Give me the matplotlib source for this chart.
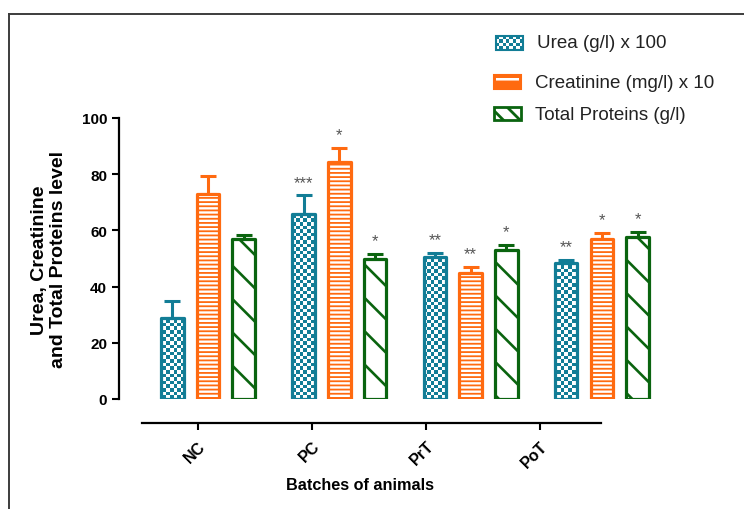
import numpy as np
import matplotlib
matplotlib.use("Agg")
import matplotlib.pyplot as plt
from matplotlib.colors import ListedColormap
from matplotlib.patches import Rectangle
from matplotlib.lines import Line2D

plt.rcParams['font.family'] = ['Liberation Sans', 'DejaVu Sans']

# ---- data ----
batches = ["NC", "PC", "PrT", "PoT"]
series_names = ["Urea (g/l) x 100", "Creatinine (mg/l) x 10", "Total Proteins (g/l)"]
urea = [29.0, 66.0, 50.5, 48.5]
urea_err = [6.0, 6.5, 1.5, 1.1]
creatinine = [73.0, 84.3, 45.0, 57.0]
creatinine_err = [6.3, 5.0, 2.0, 2.2]
proteins = [57.0, 50.0, 53.0, 57.5]
proteins_err = [1.2, 1.6, 1.8, 2.0]
urea_sig = ["", "***", "**", "**"]
creatinine_sig = ["", "*", "**", "*"]
proteins_sig = ["", "*", "*", "*"]
y_ticks = [0, 20, 40, 60, 80, 100]

TEAL = "#127d96"
ORANGE = "#ff6a10"
GREEN = "#0a640f"
SIG_COLOR = "#555555"

W, H = 744, 510
fig = plt.figure(figsize=(W / 100, H / 100), dpi=100)


def fx(px):
    return px / W


def fy(py):
    return 1 - py / H


# outer frame (top and left edges)
fig.add_artist(Line2D([fx(9), 1.0], [fy(15), fy(15)], color="#3c3c3c", lw=1.4,
                      transform=fig.transFigure))
fig.add_artist(Line2D([fx(9), fx(9)], [fy(15), 0.0], color="#3c3c3c", lw=1.4,
                      transform=fig.transFigure))

# ---- bar axes ----
ax_l, ax_r, ax_b, ax_t = 119, 680, 400, 119
ax = fig.add_axes([fx(ax_l), fy(ax_b), (ax_r - ax_l) / W, (ax_b - ax_t) / H])
ax.patch.set_visible(False)
unit = 131.3
xlo = -(208 - ax_l) / unit
xhi = xlo + (ax_r - ax_l) / unit
ax.set_xlim(xlo, xhi)
ax.set_ylim(0, 100)
for s in ("top", "right", "bottom"):
    ax.spines[s].set_visible(False)
ax.spines["left"].set_linewidth(1.6)
ax.spines["left"].set_bounds(0, 100)
ax.set_xticks([])
ax.set_yticks(y_ticks)
ax.tick_params(axis="y", direction="out", length=5, width=1.5, pad=3.5,
               labelsize=11)
for lab in ax.get_yticklabels():
    lab.set_fontweight("bold")

x = np.arange(len(batches))
bw = 0.171
off = 0.272
edge_lw = 2.3


def hatch_lw(bars, lw):
    for b in bars:
        if hasattr(b, "set_hatch_linewidth"):
            b.set_hatch_linewidth(lw)


# checkerboard texture for the urea bars
ncols = int((ax_r - ax_l) / 3.6)
nrows = int((ax_b - ax_t) / 3.6)
checker = (np.indices((nrows, ncols)).sum(axis=0) % 2).astype(float)
checker_cmap = ListedColormap(["white", TEAL])

urea_bars = ax.bar(x - off, urea, width=bw, facecolor="none", edgecolor=TEAL,
                   linewidth=edge_lw, zorder=3, joinstyle="round")
for b in urea_bars:
    im = ax.imshow(checker, cmap=checker_cmap, extent=(0, 1, 0, 1),
                   transform=ax.transAxes, interpolation="nearest",
                   aspect="auto", zorder=2)
    im.set_clip_path(b)

plt.rcParams["hatch.linewidth"] = 1.3
creat_bars = ax.bar(x, creatinine, width=bw, facecolor="white", edgecolor=ORANGE,
                    hatch="----", linewidth=edge_lw, zorder=3, joinstyle="round")
hatch_lw(creat_bars, 1.3)

plt.rcParams["hatch.linewidth"] = 1.9
prot_bars = ax.bar(x + off, proteins, width=bw, facecolor="white", edgecolor=GREEN,
                   hatch="\\", linewidth=edge_lw, zorder=3, joinstyle="round")
hatch_lw(prot_bars, 1.9)

ax.set_xlim(xlo, xhi)
ax.set_ylim(0, 100)

for xs, vals, errs, col, sigs in [
    (x - off, urea, urea_err, TEAL, urea_sig),
    (x, creatinine, creatinine_err, ORANGE, creatinine_sig),
    (x + off, proteins, proteins_err, GREEN, proteins_sig),
]:
    ax.errorbar(xs, vals, yerr=[np.zeros(len(vals)), errs], fmt="none",
                ecolor=col, elinewidth=2.2, capsize=5.5, capthick=2.2, zorder=2.5)
    for xi, v, e, s in zip(xs, vals, errs, sigs):
        if s:
            ax.annotate(s, (xi, v + e), xytext=(0, 4), textcoords="offset points",
                        ha="center", va="bottom", fontsize=12, color=SIG_COLOR,
                        annotation_clip=False)

# ---- category axis ----
cax_l, cax_r, cax_y = 142, 601, 423.5
cax = fig.add_axes([fx(cax_l), fy(cax_y), (cax_r - cax_l) / W, 0.0001])
cax.patch.set_visible(False)
for s in ("top", "right", "left"):
    cax.spines[s].set_visible(False)
cax.spines["bottom"].set_linewidth(1.6)
cstep = 114
cax.set_xlim(-(198 - cax_l) / cstep, (cax_r - 198) / cstep)
cax.set_yticks([])
cax.set_xticks(x)
cax.set_xticklabels(batches, rotation=45, ha="right", va="top",
                    rotation_mode="anchor", fontsize=11.5, fontweight="bold")
cax.tick_params(axis="x", direction="out", length=5, width=1.5, pad=6)

# axis titles
fig.text(fx(49), fy(260), "Urea, Creatinine\nand Total Proteins level", rotation=90,
         ha="center", va="center", multialignment="center", fontsize=14,
         fontweight="bold", linespacing=1.1)
fig.text(fx(360), fy(486), "Batches of animals", ha="center", va="center",
         fontsize=11.7, fontweight="bold")

# ---- legend ----
lax = fig.add_axes([0, 0, 1, 1])
lax.set_xlim(0, W)
lax.set_ylim(H, 0)
lax.axis("off")

sw_u = Rectangle((496, 37), 27, 14, facecolor="none", edgecolor=TEAL, lw=1.5,
                 zorder=3)
lax.add_patch(sw_u)
sw_checker = (np.indices((4, 8)).sum(axis=0) % 2).astype(float)
im = lax.imshow(sw_checker, cmap=ListedColormap([TEAL, "white"]),
                extent=(496, 523, 51, 37), interpolation="nearest", aspect="auto",
                zorder=2)
im.set_clip_path(sw_u)
lax.set_xlim(0, W)
lax.set_ylim(H, 0)

plt.rcParams["hatch.linewidth"] = 2.0
sw_c = Rectangle((494, 76), 27, 14, facecolor=ORANGE, edgecolor=ORANGE, lw=1.5)
lax.add_patch(sw_c)
lax.add_patch(Rectangle((496, 79), 23, 8, facecolor="none", edgecolor="white",
                        hatch="--", lw=0))
sw_p = Rectangle((494, 108), 27, 13, facecolor="white", edgecolor=GREEN, lw=2,
                 hatch="\\\\")
lax.add_patch(sw_p)
if hasattr(sw_p, "set_hatch_linewidth"):
    sw_p.set_hatch_linewidth(2.0)

for ty, tx, name in zip([43, 83, 116], [537, 535, 535], series_names):
    lax.text(tx, ty, name, ha="left", va="center", fontsize=13.5, color="#222222")

fig.savefig("out.png", dpi=100)
